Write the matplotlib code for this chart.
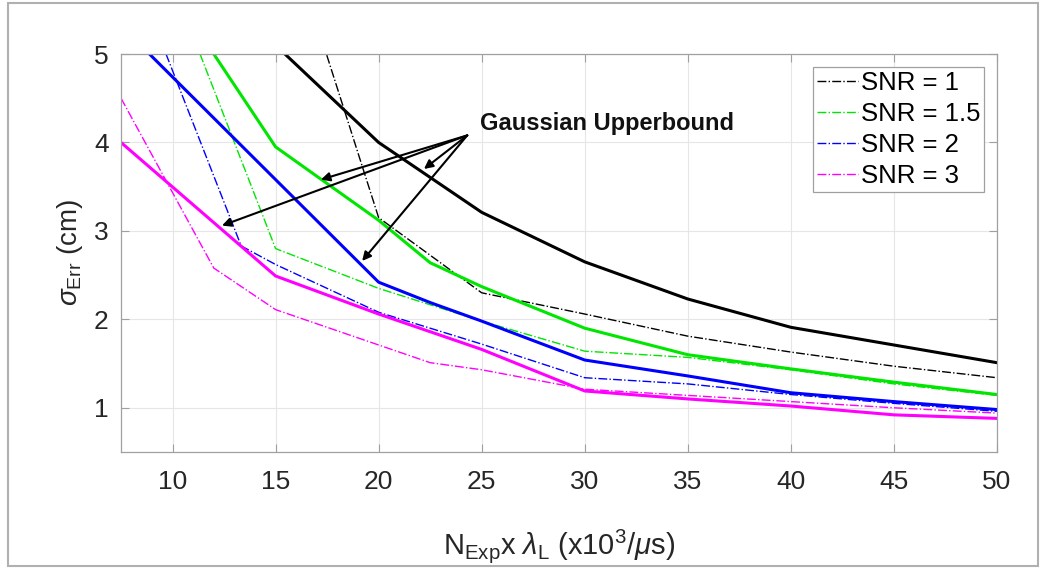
import numpy as np
import matplotlib.pyplot as plt
from matplotlib.patches import Rectangle

plt.rcParams['font.family'] = ['Liberation Sans', 'DejaVu Sans']
plt.rcParams['mathtext.fontset'] = 'custom'
plt.rcParams['mathtext.rm'] = 'Liberation Sans'
plt.rcParams['mathtext.it'] = 'Liberation Sans:italic'

# Data
# "Gaussian upperbound" curves (solid) and simulated curves (dash-dot)
x_ub1 = [15, 20, 25, 30, 35, 40, 45, 50]
y_ub1 = [5.1, 4.0, 3.21, 2.65, 2.23, 1.91, 1.71, 1.51]
x_sim1 = [15, 20, 25, 30, 35, 40, 45, 50]
y_sim1 = [6.8, 3.15, 2.3, 2.06, 1.81, 1.63, 1.47, 1.34]

x_ub15 = [10, 15, 20, 22.5, 25, 30, 35, 40, 45, 50]
y_ub15 = [5.7, 3.95, 3.12, 2.64, 2.37, 1.9, 1.6, 1.44, 1.29, 1.15]
x_sim15 = [10, 15, 20, 25, 30, 35, 40, 45, 50]
y_sim15 = [5.8, 2.8, 2.35, 1.98, 1.64, 1.57, 1.43, 1.27, 1.14]

x_ub2 = [7.5, 15, 20, 22.5, 25, 30, 35, 40, 45, 50]
y_ub2 = [5.32, 3.58, 2.42, 2.19, 1.98, 1.54, 1.36, 1.17, 1.07, 0.98]
x_sim2 = [7.5, 13.33, 15, 20, 25, 30, 35, 40, 45, 50]
y_sim2 = [6.3, 2.83, 2.62, 2.08, 1.72, 1.34, 1.27, 1.15, 1.05, 0.96]

x_ub3 = [7.5, 15, 20, 25, 30, 35, 40, 45, 50]
y_ub3 = [4.0, 2.49, 2.06, 1.66, 1.19, 1.1, 1.02, 0.92, 0.88]
x_sim3 = [7.5, 12, 15, 20, 22.5, 25, 30, 35, 40, 45, 50]
y_sim3 = [4.5, 2.58, 2.11, 1.71, 1.51, 1.43, 1.21, 1.14, 1.07, 1.0, 0.94]

snr_labels = ['SNR = 1', 'SNR = 1.5', 'SNR = 2', 'SNR = 3']
colors = ['black', '#00e600', '#0000ff', '#ff00ff']

# arrow start and targets on the solid curves (x, y)
arrow_start = (24.3, 4.08)
arrow_targets = [(22.2, 3.70), (17.2, 3.58), (12.4, 3.06), (19.2, 2.66)]

fig = plt.figure(figsize=(10.45, 5.71), dpi=100)
ax = fig.add_axes([0.1158, 0.2084, 0.8382, 0.697])

sims = [(x_sim1, y_sim1), (x_sim15, y_sim15), (x_sim2, y_sim2), (x_sim3, y_sim3)]
ubs = [(x_ub1, y_ub1), (x_ub15, y_ub15), (x_ub2, y_ub2), (x_ub3, y_ub3)]

for (xs, ys), c, lab in zip(sims, colors, snr_labels):
    ax.plot(xs, ys, linestyle='-.', color=c, linewidth=1.0, label=lab)
for (xs, ys), c in zip(ubs, colors):
    ax.plot(xs, ys, linestyle='-', color=c, linewidth=2.2)

ax.set_xlim(7.5, 50)
ax.set_ylim(0.5, 5)
ax.set_xticks(np.arange(10, 51, 5))
ax.set_yticks([1, 2, 3, 4, 5])
ax.grid(True, color='#e6e6e6', linewidth=0.8)
ax.set_axisbelow(True)
for s in ax.spines.values():
    s.set_color('#a0a0a0')
    s.set_linewidth(0.9)
ax.tick_params(direction='in', top=True, right=True, length=6, width=0.8,
               color='#a0a0a0', labelsize=19, labelcolor='#262626')
ax.tick_params(axis='x', pad=13)
ax.tick_params(axis='y', pad=9)

ax.set_xlabel(r'N$_{\mathrm{Exp}}$x $\lambda_{\mathrm{L}}$ (x10$^{3}$/$\mu$s)',
              fontsize=21, color='#262626', labelpad=24)
ax.set_ylabel(r'$\sigma_{\mathrm{Err}}$ (cm)', fontsize=20, color='#262626', labelpad=6)

for tx, ty in arrow_targets:
    ax.annotate('', xy=(tx, ty), xytext=arrow_start,
                arrowprops=dict(arrowstyle='-|>', color='black', lw=1.5,
                                mutation_scale=13, shrinkA=0, shrinkB=0))
ax.text(24.9, 4.21, 'Gaussian Upperbound', fontsize=17, fontweight='bold',
        ha='left', va='center', color='#111111')

leg = ax.legend(loc='upper right', fontsize=18.5, handlelength=1.6, handletextpad=0.1,
                borderpad=0.15, labelspacing=0.28, borderaxespad=0.5, fancybox=False,
                framealpha=1, edgecolor='#a0a0a0')
leg.get_frame().set_linewidth(0.9)

# picture frame around the figure
fig.patches.append(Rectangle((0.008, 0.008), 0.985, 0.986, transform=fig.transFigure,
                             fill=False, edgecolor='#b0b0b0', linewidth=1.5))

fig.savefig('out.png', dpi=100)
